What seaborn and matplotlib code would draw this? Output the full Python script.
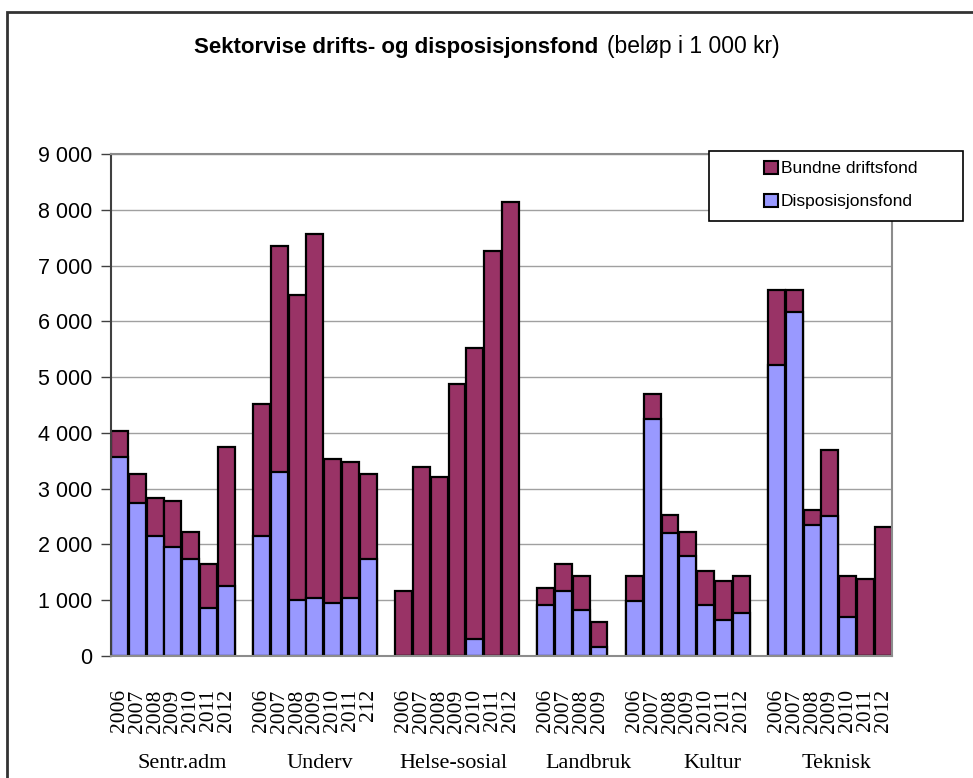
import matplotlib
matplotlib.use('Agg')
import matplotlib.pyplot as plt
import matplotlib.patches as mpatches
import matplotlib.transforms as mtransforms
from matplotlib.ticker import FuncFormatter, MultipleLocator
import seaborn as sns
import pandas as pd

# data (beløp i 1 000 kr)
sectors = ['Sentr.adm', 'Underv', 'Helse-sosial', 'Landbruk', 'Kultur', 'Teknisk']
year_labels = [
    ['2006', '2007', '2008', '2009', '2010', '2011', '2012'],
    ['2006', '2007', '2008', '2009', '2010', '2011', '212'],
    ['2006', '2007', '2008', '2009', '2010', '2011', '2012'],
    ['2006', '2007', '2008', '2009'],
    ['2006', '2007', '2008', '2009', '2010', '2011', '2012'],
    ['2006', '2007', '2008', '2009', '2010', '2011', '2012'],
]
dispo = [
    [3562, 2737, 2157, 1960, 1733, 866, 1261],
    [2157, 3305, 1004, 1034, 956, 1034, 1733],
    [0, 0, 0, 0, 299, 0, 0],
    [914, 1165, 825, 167],
    [992, 4255, 2211, 1787, 914, 645, 777],
    [5211, 6173, 2349, 2516, 693, 0, 0],
]
bundne = [
    [478, 526, 670, 825, 484, 783, 2480],
    [2361, 4045, 5474, 6526, 2570, 2444, 1530],
    [1171, 3394, 3215, 4870, 5223, 7261, 8133],
    [299, 484, 609, 443],
    [442, 436, 311, 430, 610, 706, 657],
    [1351, 389, 268, 1177, 741, 1386, 2307],
]
# where the sector names sit (category units)
sector_label_x = [3.5, 11.3, 18.8, 26.4, 33.4, 40.4]

COL_BUNDNE = '#993366'
COL_DISPO = '#9999FF'

# build long table + category order with empty slots between sectors
rows = []
order = []
ticklabels = []
for k, sec in enumerate(sectors):
    if k > 0:
        order.append(f'gap{k}')
        ticklabels.append('')
    for j, yr in enumerate(year_labels[k]):
        key = f'{sec}_{j}'
        order.append(key)
        ticklabels.append(yr)
        rows.append({'key': key,
                     'dispo': dispo[k][j],
                     'total': dispo[k][j] + bundne[k][j]})
df = pd.DataFrame(rows)

sns.set_style('white')
plt.rcParams['font.family'] = ['Liberation Sans', 'DejaVu Sans']
plt.rcParams['text.color'] = 'black'
plt.rcParams['xtick.labelcolor'] = 'black'
plt.rcParams['ytick.labelcolor'] = 'black'

W, H = 973, 778
fig = plt.figure(figsize=(W / 100, H / 100), dpi=100)
ax = fig.add_axes([110.7 / W, (H - 656) / H, (892 - 110.7) / W, 502 / H])

bar_kw = dict(order=order, width=0.95, edgecolor='black', linewidth=1.6,
              saturation=1, errorbar=None, ax=ax)
sns.barplot(data=df, x='key', y='total', color=COL_BUNDNE, **bar_kw)
sns.barplot(data=df, x='key', y='dispo', color=COL_DISPO, **bar_kw)

ax.set_xlim(-0.5, len(order) - 0.5)
ax.set_ylim(0, 9000)
ax.yaxis.set_major_locator(MultipleLocator(1000))
ax.yaxis.set_major_formatter(FuncFormatter(lambda v, p: f'{v:,.0f}'.replace(',', ' ')))
ax.yaxis.grid(True, color='#a0a0a0', lw=1.0)
ax.set_axisbelow(True)
ax.set_xlabel('')
ax.set_ylabel('')

for side in ['top', 'right', 'bottom']:
    ax.spines[side].set_color('#8c8c8c')
    ax.spines[side].set_linewidth(1.5)
ax.spines['left'].set_color('#404040')
ax.spines['left'].set_linewidth(1.5)

ax.tick_params(axis='y', direction='out', length=7, width=1, color='#404040',
               labelsize=15.5, pad=6, left=True, labelcolor='black')
ax.tick_params(axis='x', length=0, pad=24, labelcolor='black')
ax.set_xticks(range(len(order)))
ax.set_xticklabels(ticklabels, rotation=90, va='top', ha='center',
                   family='Liberation Serif', fontsize=15.5)

# sector names under the year labels
trans = mtransforms.blended_transform_factory(ax.transData, fig.transFigure)
for x, name in zip(sector_label_x, sectors):
    ax.text(x, 1 - 763 / H, name, transform=trans, ha='center', va='center',
            family='Liberation Serif', fontsize=16, color='black')

# title: bold part + normal part
fig.text(598 / W, 1 - 47 / H, 'Sektorvise drifts- og disposisjonsfond',
         ha='right', va='center', fontsize=16, fontweight='bold', color='black')
fig.text(607 / W, 1 - 47 / H, '(beløp i 1 000 kr)',
         ha='left', va='center', fontsize=16.5, color='black')

# legend box
fig.add_artist(mpatches.Rectangle((709 / W, 1 - 221 / H), (963 - 709) / W, 70 / H,
                                  transform=fig.transFigure, fill=True, fc='white',
                                  ec='black', lw=1.2, zorder=5))
handles = [mpatches.Patch(fc=COL_BUNDNE, ec='black', lw=1.5),
           mpatches.Patch(fc=COL_DISPO, ec='black', lw=1.5)]
leg = fig.legend(handles, ['Bundne driftsfond', 'Disposisjonsfond'],
                 loc='center left', bbox_to_anchor=(748 / W, 1 - 185 / H),
                 frameon=False, handlelength=0.8, handleheight=0.8,
                 handletextpad=0.2, labelspacing=1.0, fontsize=12.5)
leg.set_zorder(6)

# outer chart frame (only top/left visible in the crop)
fig.add_artist(mpatches.Rectangle((7 / W, -0.05), 1.2, 1 - 12 / H + 0.05,
                                  transform=fig.transFigure, fill=False,
                                  ec='#333333', lw=2))

fig.savefig('out.png', dpi=100)
